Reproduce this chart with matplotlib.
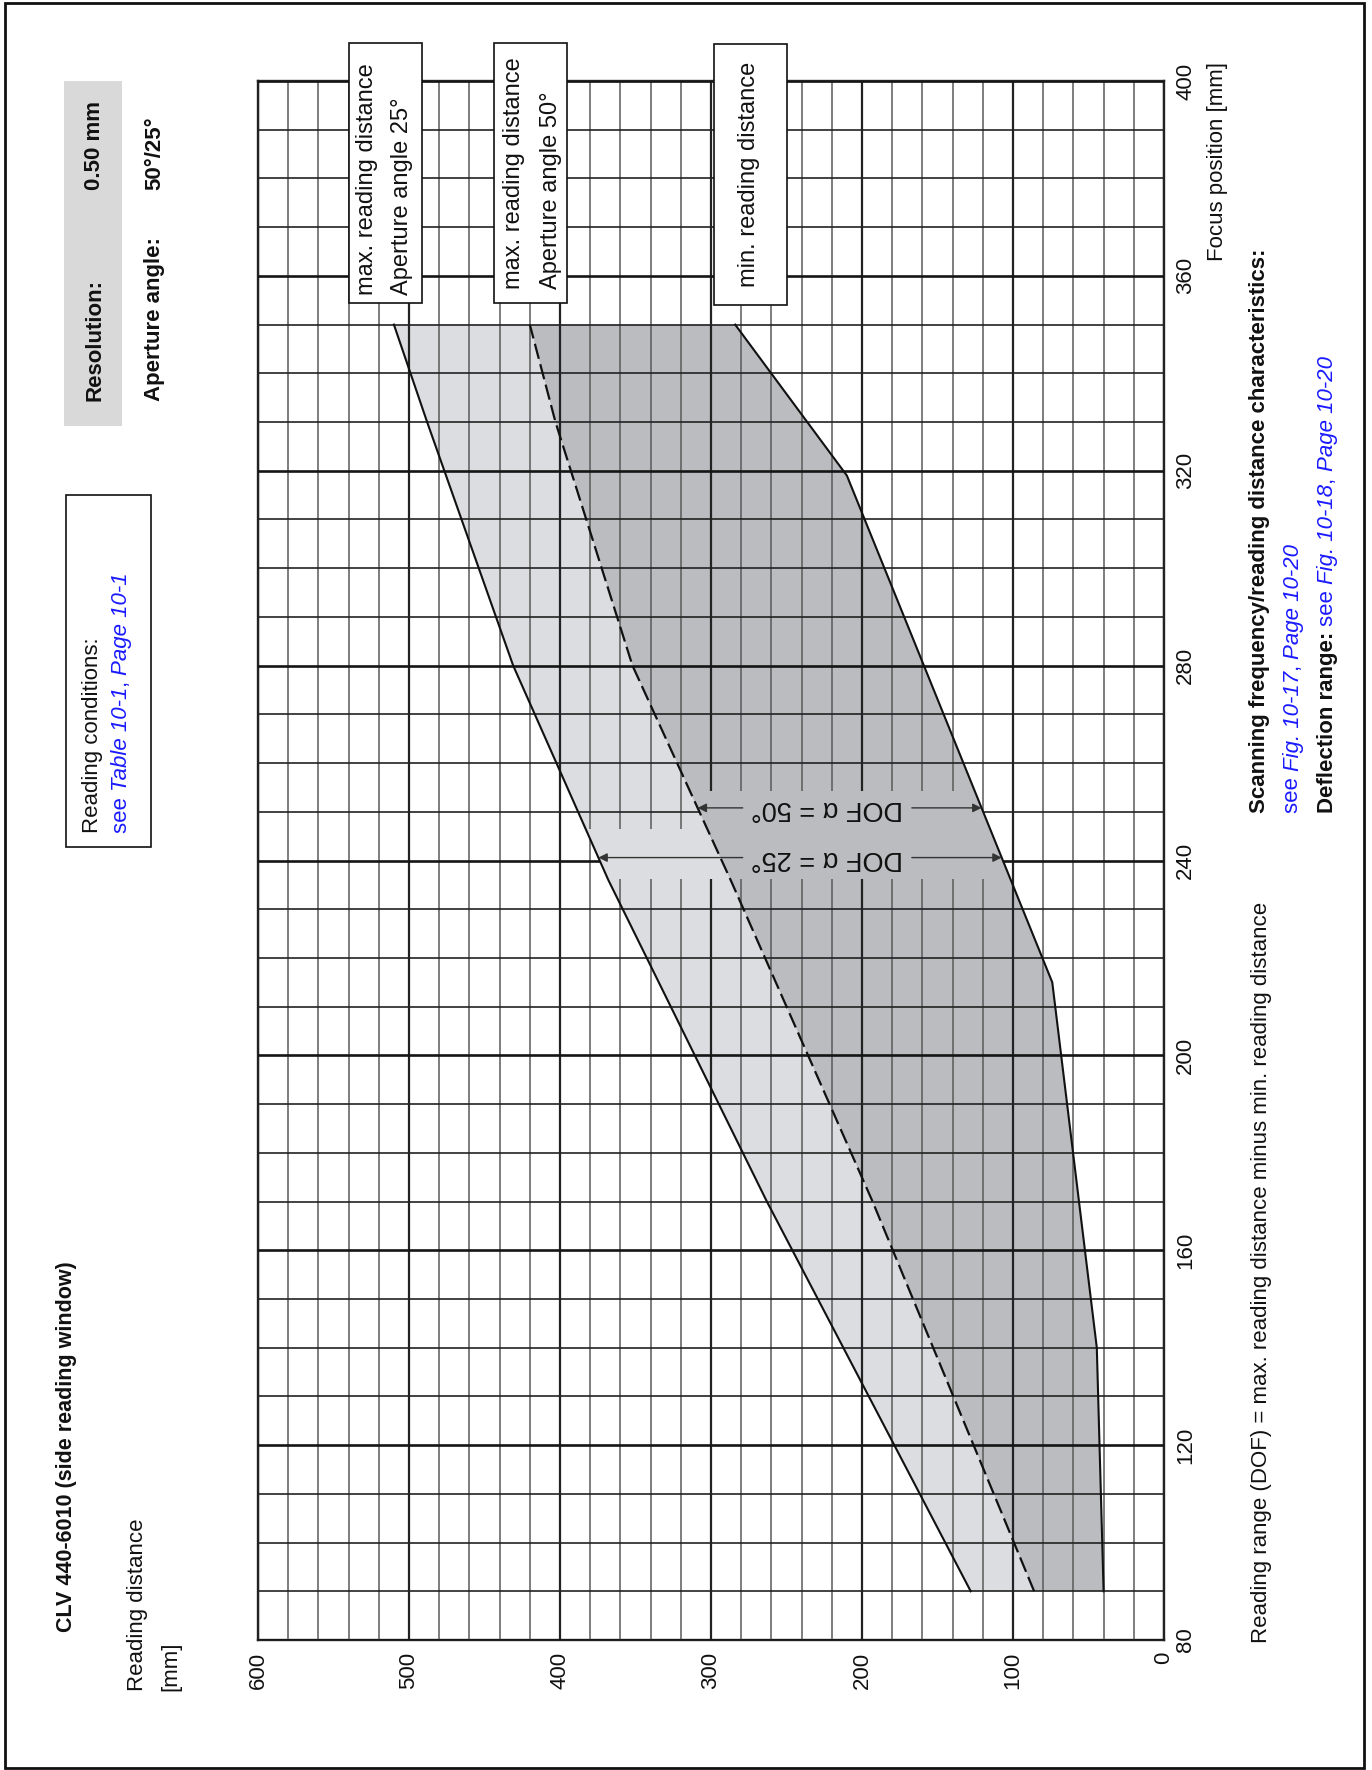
import numpy as np
import matplotlib
matplotlib.use("Agg")
import matplotlib.pyplot as plt
from matplotlib.patches import Rectangle

plt.rcParams['font.family'] = ['Liberation Sans', 'DejaVu Sans']

# focus position [mm] vs reading distance [mm]
focus_max25 = [90, 170, 236, 280, 330, 350]
dist_max25 = [128, 263, 368, 431, 488, 510]
focus_max50 = [90, 170, 236, 280, 330, 350]
dist_max50 = [86, 193, 287, 352, 403, 420]
focus_min = [90, 140, 215, 319, 350]
dist_min = [40, 44.5, 74, 210, 284]

dist_ticks = [0, 100, 200, 300, 400, 500, 600]
focus_ticks = [80, 120, 160, 200, 240, 280, 320, 360, 400]

dof_focus = [240.6, 250.8]
dof_labels = ["DOF \u03b1 = 25\u00b0", "DOF \u03b1 = 50\u00b0"]

W, H = 1372, 1770
BLUE = '#1a1aff'
INK = '#111111'
LIGHT = '#dcdde0'
DARK = '#bbbcc0'

fig = plt.figure(figsize=(W / 100, H / 100), dpi=100)


def fx(px):
    return px / W


def fy(py):
    return 1 - py / H


ax = fig.add_axes([fx(258), fy(1640), (1164 - 258) / W, (1640 - 81) / H])
ax.set_xlim(600, 0)
ax.set_ylim(80, 400)

# shaded areas
light_x = np.r_[dist_max25, dist_max50[::-1]]
light_y = np.r_[focus_max25, focus_max50[::-1]]
dark_x = np.r_[dist_max50, dist_min[::-1]]
dark_y = np.r_[focus_max50, focus_min[::-1]]
ax.fill(light_x, light_y, color=LIGHT, lw=0, zorder=1)
ax.fill(dark_x, dark_y, color=DARK, lw=0, zorder=1)

# bands behind the DOF labels hide the grid
band1 = Rectangle((0, 236.3), 600, 10.2, transform=ax.transData)
band2 = Rectangle((0, 246.5), 600, 7.7, transform=ax.transData)
for xs, ys, c, band in [(light_x, light_y, LIGHT, band1), (dark_x, dark_y, DARK, band1),
                        (dark_x, dark_y, DARK, band2)]:
    for p in ax.fill(xs, ys, color=c, lw=0, zorder=2.7):
        p.set_clip_path(band)

ax.plot(dist_max25, focus_max25, color=INK, lw=1.5, zorder=4)
ax.plot(dist_max50, focus_max50, color=INK, lw=1.6, dashes=(7, 2.5), zorder=4)
ax.plot(dist_min, focus_min, color=INK, lw=1.5, zorder=4)

# DOF arrows
left_curves = [(dist_max25, focus_max25), (dist_max50, focus_max50)]
text_d, half_gap = 223, 56
for f, lab, (dx, dy) in zip(dof_focus, dof_labels, left_curves):
    d_left = np.interp(f, dy, dx)
    d_right = np.interp(f, focus_min, dist_min)
    ap = dict(arrowstyle='-|>', mutation_scale=13, lw=1.0, color='#333333', shrinkA=0, shrinkB=0)
    ax.annotate('', xy=(d_left, f), xytext=(text_d + half_gap, f), arrowprops=ap, zorder=5)
    ax.annotate('', xy=(d_right, f), xytext=(text_d - half_gap, f), arrowprops=ap, zorder=5)
    ax.text(text_d, f, lab, rotation=180, ha='center', va='center', fontsize=19.5, color=INK, zorder=5)

# grid and ticks
ax.set_xticks(dist_ticks)
ax.set_xticklabels([str(v) for v in dist_ticks])
ax.set_xticks(np.arange(0, 601, 20), minor=True)
ax.set_yticks(focus_ticks)
ax.set_yticklabels([str(v) for v in focus_ticks])
ax.set_yticks(np.arange(80, 401, 10), minor=True)
ax.yaxis.tick_right()
ax.tick_params(axis='x', which='both', length=0, labelrotation=90, pad=8.5, labelsize=16, labelcolor=INK)
ax.tick_params(axis='y', which='both', length=0, labelrotation=90, pad=8, labelsize=16, labelcolor=INK)
for lbl in ax.get_yticklabels():
    lbl.set_va('center')
ax.set_axisbelow(False)
ax.grid(which='minor', axis='x', color='#5a5a5a', lw=1.1)
ax.grid(which='major', axis='x', color='#222222', lw=1.6)
ax.grid(which='minor', axis='y', color='#222222', lw=1.2)
ax.grid(which='major', axis='y', color='#151515', lw=1.9)
for s in ax.spines.values():
    s.set_linewidth(1.7)
    s.set_color('#222222')

renderer = fig.canvas.get_renderer()


def advance(s, size, **kw):
    t1 = fig.text(0, 0, s + 'x', fontsize=size, **kw)
    t2 = fig.text(0, 0, 'x', fontsize=size, **kw)
    w = t1.get_window_extent(renderer).width - t2.get_window_extent(renderer).width
    t1.remove()
    t2.remove()
    return w


def rtext(x, y, pieces, size=16, z=6):
    # text read bottom to top: x = baseline, y = start (pixels from top left)
    for s, kw in pieces:
        kw = dict(kw)
        kw.setdefault('color', INK)
        fig.text(fx(x), fy(y), s, rotation=90, rotation_mode='anchor', ha='left',
                 va='baseline', fontsize=size, zorder=z, **kw)
        y -= advance(s, size, **{k: v for k, v in kw.items() if k != 'color'})


def box(x0, y0, x1, y1, fc='white', ec=INK, lw=1.2, z=5):
    fig.add_artist(Rectangle((fx(x0), fy(y1)), (x1 - x0) / W, (y1 - y0) / H,
                             transform=fig.transFigure, fc=fc, ec=ec, lw=lw, zorder=z))


B = {'weight': 'bold'}
IT = {'style': 'italic', 'color': BLUE}
BL = {'color': BLUE}

# page frame
box(5, 3, 1364, 1768, fc='none', lw=2.0, z=1)

# title block
rtext(71.7, 1631.7, [("CLV 440-6010 (side reading window)", B)], size=15.5)
rtext(143.3, 1690.7, [("Reading distance", {})])
rtext(176.8, 1690.7, [("[mm]", {})])

# resolution block
box(64, 80.7, 121.7, 425.7, fc='#d9d9d9', ec='none', lw=0)
rtext(100, 400.7, [("Resolution:", B)])
rtext(100, 190, [("0.50 mm", B)])
rtext(160, 400.7, [("Aperture angle:", B)])
rtext(160, 190, [("50\u00b0/25\u00b0", B)])

# reading conditions
box(65.7, 495, 151, 846.7)
rtext(98.3, 833.3, [("Reading conditions:", {})])
rtext(127.3, 833.3, [("see ", BL), ("Table 10-1", IT), (", ", BL), ("Page 10-1", IT)])

# curve labels
box(349, 43, 422, 303)
rtext(373.3, 295, [("max. reading distance", {})], size=17)
rtext(408.3, 295, [("Aperture angle 25\u00b0", {})], size=17)
box(494, 43, 567, 303)
rtext(520, 289.3, [("max. reading distance", {})], size=17)
rtext(556.7, 289.3, [("Aperture angle 50\u00b0", {})], size=17)
box(714, 44, 787, 305)
rtext(755, 286.7, [("min. reading distance", {})], size=17)

# right hand notes
fig.text(fx(1223), fy(61.7), "Focus position [mm]", rotation=90, rotation_mode='anchor',
         ha='right', va='baseline', fontsize=16, color=INK)
rtext(1266.5, 1643.3, [("Reading range (DOF) = max. reading distance minus min. reading distance", {})])
rtext(1265, 813.3, [("Scanning frequency/reading distance characteristics:", B)])
rtext(1298.5, 813.3, [("see ", BL), ("Fig. 10-17", IT), (", ", BL), ("Page 10-20", IT)])
rtext(1333, 813.3, [("Deflection range: ", B), ("see ", BL), ("Fig. 10-18", IT), (", ", BL), ("Page 10-20", IT)])

fig.savefig("out.png", dpi=100)
